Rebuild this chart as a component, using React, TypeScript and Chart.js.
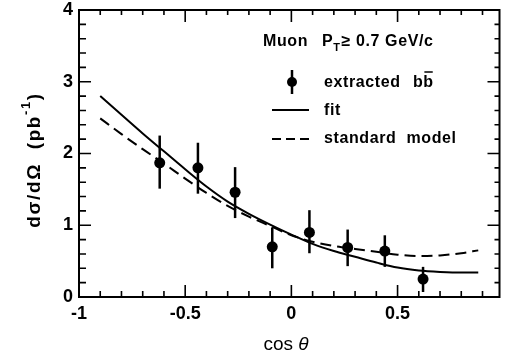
import React, { useEffect, useRef } from "react";
import { Chart, registerables } from "chart.js";

Chart.register(...registerables);

// Measured points (extracted b-bbar)
const cosTheta = [-0.62, -0.44, -0.265, -0.09, 0.085, 0.265, 0.44, 0.62];
const sigma = [1.87, 1.8, 1.46, 0.7, 0.9, 0.69, 0.64, 0.25];
const errLow = [1.51, 1.44, 1.1, 0.4, 0.61, 0.43, 0.42, 0.07];
const errHigh = [2.25, 2.15, 1.81, 0.97, 1.21, 0.94, 0.86, 0.42];

// Curves
const curveX = [-0.9, -0.8, -0.7, -0.6, -0.5, -0.4, -0.3, -0.2, -0.1, 0, 0.1, 0.2, 0.3, 0.4, 0.5, 0.6, 0.7, 0.8, 0.88];
const fitY = [2.8, 2.54, 2.28, 2.03, 1.78, 1.54, 1.33, 1.16, 1.01, 0.87, 0.74, 0.64, 0.56, 0.48, 0.41, 0.37, 0.35, 0.34, 0.34];
const smY = [2.49, 2.27, 2.06, 1.86, 1.65, 1.45, 1.27, 1.12, 0.99, 0.86, 0.77, 0.71, 0.67, 0.63, 0.59, 0.57, 0.58, 0.61, 0.65];

// Axes
const xMin = -1;
const xMax = 0.98;
const yMin = 0;
const yMax = 4;
const xTickLabels = [-1, -0.5, 0, 0.5];
const yTickLabels = [0, 1, 2, 3, 4];

const FONT = "'Liberation Sans', Arial, Helvetica, sans-serif";

const framePlugin = {
  id: "frame",
  beforeDatasetsDraw(chart: any) {
    const { ctx, scales } = chart;
    const xs = scales.x;
    const ys = scales.y;
    ctx.save();
    ctx.strokeStyle = "#000";
    ctx.lineWidth = 2.5;
    cosTheta.forEach((c, i) => {
      const px = xs.getPixelForValue(c);
      ctx.beginPath();
      ctx.moveTo(px, ys.getPixelForValue(errLow[i]));
      ctx.lineTo(px, ys.getPixelForValue(errHigh[i]));
      ctx.stroke();
    });
    ctx.restore();
  },
  afterDraw(chart: any) {
    const { ctx, chartArea: a, scales } = chart;
    const xs = scales.x;
    const ys = scales.y;
    ctx.save();
    ctx.strokeStyle = "#000";
    ctx.lineWidth = 2;
    ctx.strokeRect(a.left, a.top, a.right - a.left, a.bottom - a.top);
    ctx.lineWidth = 1.6;
    for (let k = -9; k <= 9; k++) {
      const v = k / 10;
      const px = xs.getPixelForValue(v);
      const major = k % 5 === 0;
      ctx.beginPath();
      ctx.moveTo(px, a.bottom);
      ctx.lineTo(px, a.bottom - (major ? 12 : 6));
      ctx.moveTo(px, a.top);
      ctx.lineTo(px, a.top + (major ? 12 : 5));
      ctx.stroke();
    }
    for (let k = 1; k < 20; k++) {
      const v = k / 5;
      const py = ys.getPixelForValue(v);
      const major = k % 5 === 0;
      ctx.beginPath();
      ctx.moveTo(a.left, py);
      ctx.lineTo(a.left + (major ? 12 : 7), py);
      ctx.moveTo(a.right, py);
      ctx.lineTo(a.right - (major ? 12 : 5), py);
      ctx.stroke();
    }

    ctx.fillStyle = "#000";
    ctx.textBaseline = "alphabetic";
    ctx.textAlign = "left";
    // Y title
    ctx.save();
    ctx.translate(40, 160);
    ctx.rotate(-Math.PI / 2);
    (ctx as any).letterSpacing = "1.6px";
    const big = `bold 19px ${FONT}`;
    const small = `bold 13px ${FONT}`;
    const p1 = "dσ/dΩ  (pb";
    const p2 = "-1";
    const p3 = ")";
    ctx.font = big;
    const w1 = ctx.measureText(p1).width;
    ctx.font = small;
    const w2 = ctx.measureText(p2).width;
    ctx.font = big;
    const w3 = ctx.measureText(p3).width;
    let sx = -(w1 + w2 + w3) / 2;
    ctx.fillText(p1, sx, 0);
    sx += w1;
    ctx.font = small;
    ctx.fillText(p2, sx, -10);
    sx += w2;
    ctx.font = big;
    ctx.fillText(p3, sx, 0);
    ctx.restore();

    // X title
    ctx.save();
    ctx.font = `19px ${FONT}`;
    const wc = ctx.measureText("cos ").width;
    ctx.font = `italic 19px ${FONT}`;
    const wt = ctx.measureText("θ").width;
    const tx = 286 - (wc + wt) / 2;
    ctx.font = `19px ${FONT}`;
    ctx.fillText("cos ", tx, 350);
    ctx.font = `italic 19px ${FONT}`;
    ctx.fillText("θ", tx + wc, 350);
    ctx.restore();

    // Legend
    ctx.save();
    (ctx as any).letterSpacing = "0.6px";
    ctx.font = `bold 16px ${FONT}`;
    ctx.textBaseline = "middle";
    let lx = 263;
    ctx.fillText("Muon", lx, 42);
    lx = 322;
    ctx.fillText("P", lx, 42);
    lx += ctx.measureText("P").width;
    ctx.font = `bold 11px ${FONT}`;
    ctx.fillText("T", lx, 48);
    lx += ctx.measureText("T").width + 1;
    ctx.font = `bold 16px ${FONT}`;
    ctx.fillText("≥ 0.7 GeV/c", lx, 42);

    ctx.lineWidth = 2.5;
    ctx.beginPath();
    ctx.moveTo(292, 70);
    ctx.lineTo(292, 94);
    ctx.stroke();
    ctx.beginPath();
    ctx.arc(292, 82, 5, 0, Math.PI * 2);
    ctx.fill();
    ctx.fillText("extracted", 324, 83);
    const bx = 413;
    ctx.fillText("bb", bx, 83);
    const wb = ctx.measureText("b").width;
    ctx.lineWidth = 1.5;
    ctx.beginPath();
    ctx.moveTo(bx + wb + 1, 72);
    ctx.lineTo(bx + 2 * wb - 1, 72);
    ctx.stroke();

    ctx.lineWidth = 2;
    ctx.beginPath();
    ctx.moveTo(272, 110);
    ctx.lineTo(309, 110);
    ctx.stroke();
    ctx.fillText("fit", 324, 111);

    ctx.setLineDash([9, 5]);
    ctx.beginPath();
    ctx.moveTo(272, 139);
    ctx.lineTo(309, 139);
    ctx.stroke();
    ctx.setLineDash([]);
    ctx.fillText("standard  model", 324, 139);
    ctx.restore();

    ctx.restore();
  },
};

export default function App() {
  const ref = useRef<HTMLCanvasElement | null>(null);
  useEffect(() => {
    if (!ref.current) return;
    const chart = new Chart(ref.current, {
      type: "scatter",
      data: {
        datasets: [
          {
            label: "extracted bb",
            data: cosTheta.map((c, i) => ({ x: c, y: sigma[i] })),
            showLine: false,
            pointRadius: 5.5,
            pointBackgroundColor: "#000",
            pointBorderColor: "#000",
            pointBorderWidth: 0,
          },
          {
            label: "fit",
            data: curveX.map((c, i) => ({ x: c, y: fitY[i] })),
            showLine: true,
            pointRadius: 0,
            borderColor: "#000",
            borderWidth: 2,
            cubicInterpolationMode: "monotone",
          },
          {
            label: "standard model",
            data: curveX.map((c, i) => ({ x: c, y: smY[i] })),
            showLine: true,
            pointRadius: 0,
            borderColor: "#000",
            borderWidth: 2,
            borderDash: [11, 6],
            cubicInterpolationMode: "monotone",
          },
        ],
      },
      options: {
        animation: false,
        responsive: false,
        maintainAspectRatio: false,
        layout: { padding: { top: 10, right: 4, left: 0, bottom: 0 } },
        plugins: { legend: { display: false }, tooltip: { enabled: false } },
        scales: {
          x: {
            type: "linear",
            min: xMin,
            max: xMax,
            grid: { display: false, drawTicks: false },
            border: { display: false },
            afterBuildTicks: (s: any) => {
              s.ticks = xTickLabels.map((v) => ({ value: v }));
            },
            afterFit: (s: any) => {
              s.height = 63;
              s.paddingLeft = 0;
              s.paddingRight = 0;
            },
            ticks: {
              padding: 6,
              color: "#000",
              maxRotation: 0,
              autoSkip: false,
              font: { family: FONT, size: 18, weight: "bold" },
              callback: (v: any) => String(v),
            },
          },
          y: {
            type: "linear",
            min: yMin,
            max: yMax,
            grid: { display: false, drawTicks: false },
            border: { display: false },
            afterBuildTicks: (s: any) => {
              s.ticks = yTickLabels.map((v) => ({ value: v }));
            },
            afterFit: (s: any) => {
              s.width = 79;
              s.paddingTop = 0;
              s.paddingBottom = 0;
            },
            ticks: {
              padding: 6,
              color: "#000",
              autoSkip: false,
              font: { family: FONT, size: 18, weight: "bold" },
              callback: (v: any) => String(v),
            },
          },
        },
      },
      plugins: [framePlugin],
    } as any);
    return () => chart.destroy();
  }, []);
  return (
    <div style={{ position: "fixed", left: 0, top: 0, width: 505, height: 360, background: "#fff" }}>
      <canvas ref={ref} width={505} height={360} style={{ display: "block" }} />
    </div>
  );
}
